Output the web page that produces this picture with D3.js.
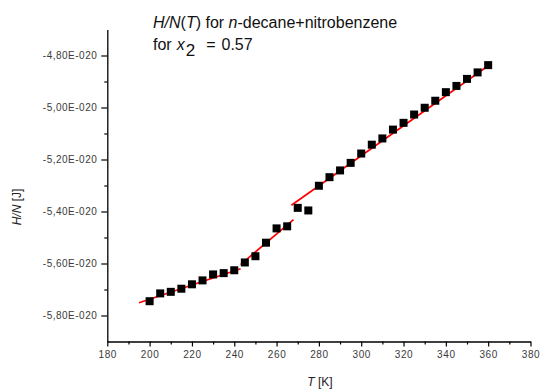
<!DOCTYPE html>
<html>
<head>
<meta charset="utf-8">
<script src="https://cdn.jsdelivr.net/npm/d3@7"></script>
<style>
  html, body { margin: 0; padding: 0; background: #fff; }
  svg { display: block; font-family: "Liberation Sans", Arial, sans-serif; }
</style>
</head>
<body>
<svg id="chart" width="541" height="392"></svg>
<script>
// Temperatures [K]
const temps = [200, 205, 210, 215, 220, 225, 230, 235, 240, 245, 250, 255, 260, 265,
               270, 275, 280, 285, 290, 295, 300, 305, 310, 315, 320, 325, 330, 335,
               340, 345, 350, 355, 360];
// Enthalpy per molecule H/N [J]
const hn = [-5.745e-20, -5.715e-20, -5.709e-20, -5.697e-20, -5.680e-20, -5.665e-20,
            -5.642e-20, -5.637e-20, -5.626e-20, -5.596e-20, -5.572e-20, -5.520e-20,
            -5.465e-20, -5.457e-20, -5.386e-20, -5.396e-20, -5.301e-20, -5.268e-20,
            -5.242e-20, -5.213e-20, -5.177e-20, -5.143e-20, -5.119e-20, -5.085e-20,
            -5.059e-20, -5.027e-20, -5.001e-20, -4.974e-20, -4.941e-20, -4.917e-20,
            -4.890e-20, -4.865e-20, -4.837e-20];
// Linear fits over three temperature ranges: [T, H/N] end points
const fitLow  = [[195, -5.751e-20], [243, -5.620e-20]];
const fitMid  = [[243, -5.604e-20], [268, -5.431e-20]];
const fitHigh = [[267, -5.376e-20], [361.5, -4.831e-20]];
// Axis ticks
const xTicks = [180, 200, 220, 240, 260, 280, 300, 320, 340, 360, 380];
const xMinor = [190, 210, 230, 250, 270, 290, 310, 330, 350, 370];
const yTicks = [-4.8e-20, -5.0e-20, -5.2e-20, -5.4e-20, -5.6e-20, -5.8e-20];
const yMinor = [-4.9e-20, -5.1e-20, -5.3e-20, -5.5e-20, -5.7e-20];

const svg = d3.select("#chart");
const x = d3.scaleLinear().domain([180, 380]).range([107.3, 530.5]);
const y = d3.scaleLinear().domain([-5.9e-20, -4.7e-20]).range([341.5, 29.5]);

const fmtY = d => (d * 1e20).toFixed(2).replace(".", ",") + "E-020";
const labelColor = "#3a3a3a";

// Bottom axis
const gx = svg.append("g").attr("transform", `translate(0,${y.range()[0]})`);
gx.call(d3.axisBottom(x).tickValues(xTicks).tickSize(5).tickSizeOuter(0).tickPadding(4));
gx.append("g").call(d3.axisBottom(x).tickValues(xMinor).tickSize(3).tickFormat(""))
  .select(".domain").remove();

// Left axis
const gy = svg.append("g").attr("transform", `translate(${x.range()[0]},0)`);
gy.call(d3.axisLeft(y).tickValues(yTicks).tickFormat(fmtY).tickSize(6).tickSizeOuter(0).tickPadding(4));
gy.append("g").call(d3.axisLeft(y).tickValues(yMinor).tickSize(3).tickFormat(""))
  .select(".domain").remove();

svg.selectAll(".domain").attr("stroke", "#000").attr("stroke-width", 1.3);
svg.selectAll(".tick line").attr("stroke", "#000").attr("stroke-width", 1.2);
svg.selectAll(".tick text")
  .attr("fill", labelColor)
  .attr("font-size", 10)
  .attr("font-family", "'Liberation Sans', Arial, sans-serif");
gy.selectAll(".tick text").attr("letter-spacing", 0.5);
gx.selectAll(".tick text").attr("letter-spacing", 0.6);

// Fit lines
const line = d3.line().x(d => x(d[0])).y(d => y(d[1]));
svg.append("g").selectAll("path")
  .data([fitLow, fitMid, fitHigh])
  .join("path")
  .attr("d", line)
  .attr("fill", "none")
  .attr("stroke", "#ff0000")
  .attr("stroke-width", 1.7);

// Data markers
const s = 8;
svg.append("g").selectAll("rect")
  .data(temps.map((t, i) => [t, hn[i]]))
  .join("rect")
  .attr("x", d => x(d[0]) - s / 2)
  .attr("y", d => y(d[1]) - s / 2)
  .attr("width", s)
  .attr("height", s)
  .attr("fill", "#000");

// Axis titles
const xt = svg.append("text")
  .attr("x", 320).attr("y", 386)
  .attr("text-anchor", "middle")
  .attr("font-size", 12)
  .attr("fill", "#222");
xt.append("tspan").attr("font-style", "italic").text("T");
xt.append("tspan").text(" [K]");

const yt = svg.append("text")
  .attr("transform", "translate(21,207) rotate(-90)")
  .attr("text-anchor", "middle")
  .attr("font-size", 12)
  .attr("fill", "#222");
yt.append("tspan").attr("font-style", "italic").text("H/N");
yt.append("tspan").text(" [J]");

// Chart title
const t1 = svg.append("text")
  .attr("x", 153).attr("y", 28)
  .attr("font-size", 16)
  .attr("fill", "#111");
t1.append("tspan").attr("font-style", "italic").text("H/N");
t1.append("tspan").text("(");
t1.append("tspan").attr("font-style", "italic").text("T");
t1.append("tspan").text(") for ");
t1.append("tspan").attr("font-style", "italic").text("n");
t1.append("tspan").text("-decane+nitrobenzene");

const t2 = svg.append("text")
  .attr("x", 153).attr("y", 50)
  .attr("font-size", 16)
  .attr("fill", "#111");
t2.append("tspan").text("for");
t2.append("tspan").attr("dx", 5).attr("font-style", "italic").text("x");
t2.append("tspan").attr("dx", 1).attr("dy", 6).attr("font-size", 17).text("2");
t2.append("tspan").attr("dx", 11).attr("dy", -6).text("=");
t2.append("tspan").attr("dx", 6).text("0.57");
</script>
</body>
</html>
